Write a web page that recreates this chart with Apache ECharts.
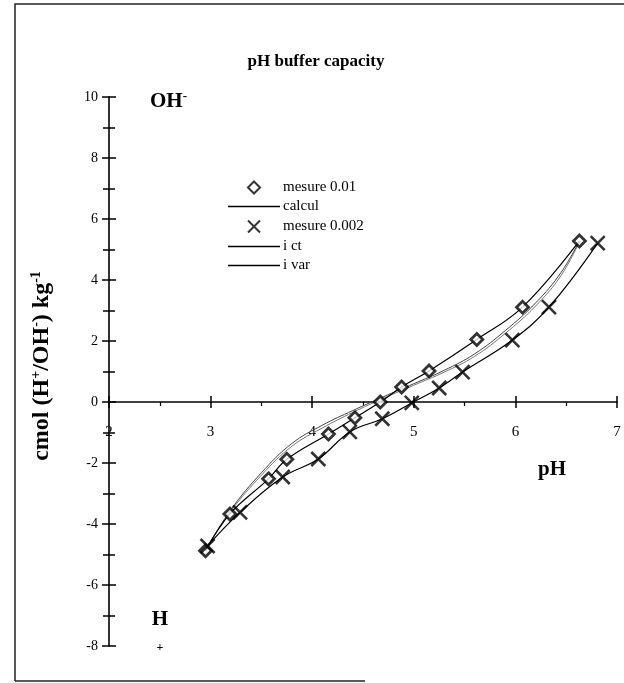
<!DOCTYPE html>
<html><head><meta charset="utf-8">
<script src="https://cdn.jsdelivr.net/npm/echarts@6/dist/echarts.min.js"></script>
<style>html,body{margin:0;padding:0;background:#fff}#c{width:624px;height:683px}</style>
</head><body><div id="c"></div>
<script>
// Measured points (pH, cmol/kg)
const mesure001 = [[2.95,-4.88],[3.19,-3.67],[3.57,-2.52],[3.75,-1.88],[4.16,-1.05],[4.42,-0.52],[4.67,0.00],[4.88,0.49],[5.15,1.02],[5.62,2.05],[6.07,3.11],[6.63,5.28]];
const mesure0002 = [[2.97,-4.72],[3.29,-3.62],[3.71,-2.46],[4.06,-1.87],[4.37,-0.98],[4.69,-0.55],[4.98,-0.03],[5.25,0.46],[5.48,0.98],[5.97,2.03],[6.33,3.11],[6.81,5.21]];
// Model curves
const calcul = [[2.95,-4.88],[3.19,-3.67],[3.57,-2.52],[3.75,-1.88],[4.16,-1.05],[4.42,-0.52],[4.67,0.00],[4.88,0.49],[5.15,1.02],[5.62,2.05],[6.07,3.11],[6.63,5.28]];
const ict = [[2.95,-4.85],[3.2,-3.58],[3.5,-2.4],[3.8,-1.45],[4.1,-0.85],[4.4,-0.34],[4.7,0.12],[5.0,0.55],[5.3,0.98],[5.6,1.5],[5.9,2.25],[6.2,3.15],[6.45,4.15],[6.63,5.25]];
const ivar = [[2.95,-4.85],[3.2,-3.53],[3.5,-2.32],[3.8,-1.36],[4.1,-0.76],[4.4,-0.28],[4.7,0.17],[5.0,0.6],[5.3,1.04],[5.6,1.58],[5.9,2.34],[6.2,3.25],[6.45,4.25],[6.63,5.28]];
const xTicks = [2,3,4,5,6,7];
const yTicks = [-8,-6,-4,-2,0,2,4,6,8,10];

const FONT = 'Liberation Serif';
const diamond = 'path://M0,-1L1,0L0,1L-1,0Z';
const cross = 'path://M0,0L10,10M10,0L0,10';
const lineIcon = 'path://M0,0H52V1.3H0Z';

const GRID_TOP = 97, GRID_BOTTOM = 37, H = 683;
const plotH = H - GRID_TOP - GRID_BOTTOM;
const yMin = yTicks[0], yMax = yTicks[yTicks.length-1];
// distance from bottom edge of grid to the y=0 line (axis crosses at zero)
const zeroOffset = -plotH * (0 - yMin) / (yMax - yMin);

const chart = echarts.init(document.getElementById('c'), null, {renderer:'canvas'});
const yBase = {
  type:'value', min:yMin, max:yMax, interval:2, position:'left',
  splitLine:{show:false},
  axisLine:{show:true, onZero:false, lineStyle:{color:'#000', width:1.6}},
  minorTick:{show:true, splitNumber:2, length:6, lineStyle:{color:'#000', width:1.5}},
  minorSplitLine:{show:false}
};
const xBase = {
  type:'value', min:xTicks[0], max:xTicks[xTicks.length-1], interval:1, position:'bottom',
  offset:zeroOffset,
  splitLine:{show:false},
  axisLine:{show:true, onZero:false, lineStyle:{color:'#000', width:1.6}},
  minorSplitLine:{show:false}
};
chart.setOption({
  animation:false,
  backgroundColor:'#fff',
  textStyle:{fontFamily:FONT},
  grid:{left:109, right:7, top:GRID_TOP, bottom:GRID_BOTTOM},
  title:{text:'pH buffer capacity', left:311, top:48, textAlign:'center',
    textStyle:{fontFamily:FONT, fontSize:17, fontWeight:'bold', color:'#000'}},
  legend:{
    orient:'vertical', left:223, top:175, itemWidth:52, itemHeight:12, itemGap:4,
    textStyle:{fontFamily:FONT, fontSize:15, lineHeight:14, height:14, color:'#000', padding:[0,0,0,-2]},
    data:[
      {name:'mesure 0.01'},
      {name:'calcul', icon:lineIcon, itemStyle:{color:'#000'}},
      {name:'mesure 0.002'},
      {name:'i ct', icon:lineIcon, itemStyle:{color:'#000'}},
      {name:'i var', icon:lineIcon, itemStyle:{color:'#000'}}
    ]
  },
  xAxis:[
    Object.assign({}, xBase, {
      axisTick:{show:true, inside:false, length:6, lineStyle:{color:'#000', width:1.5}},
      minorTick:{show:true, splitNumber:2, length:4, lineStyle:{color:'#000', width:1.2}},
      axisLabel:{show:true, margin:23, fontFamily:FONT, fontSize:15, color:'#000', showMinLabel:true}
    }),
    Object.assign({}, xBase, {
      axisLine:{show:false, onZero:false},
      axisTick:{show:true, inside:true, length:6, lineStyle:{color:'#000', width:1.5}},
      minorTick:{show:false},
      axisLabel:{show:false}
    })
  ],
  yAxis:[
    Object.assign({}, yBase, {
      axisTick:{show:true, inside:false, length:7, lineStyle:{color:'#000', width:1.5}},
      axisLabel:{show:true, margin:11, fontFamily:FONT, fontSize:14, color:'#000'}
    }),
    Object.assign({}, yBase, {
      axisLine:{show:false},
      axisTick:{show:true, inside:true, length:7, lineStyle:{color:'#000', width:1.5}},
      minorTick:{show:true, splitNumber:2, length:6, lineStyle:{color:'#000', width:1.5}},
      axisLabel:{show:false}
    })
  ],
  series:[
    {name:'i ct', type:'line', data:ict, smooth:0.4, symbol:'none', color:'#000',
      lineStyle:{color:'#777', width:1}, z:2},
    {name:'i var', type:'line', data:ivar, smooth:0.4, symbol:'none', color:'#000',
      lineStyle:{color:'#444', width:1}, z:2},
    {name:'calcul', type:'line', data:calcul, smooth:0.4, symbol:'none', color:'#000',
      lineStyle:{color:'#000', width:1.2}, z:3},
    {name:'x-line', type:'line', data:mesure0002, smooth:0.4, symbol:'none', color:'#000',
      lineStyle:{color:'#000', width:1.2}, z:3},
    {name:'mesure 0.01', type:'scatter', data:mesure001, symbol:diamond, symbolSize:12,
      itemStyle:{color:'#fff', borderColor:'#000', borderWidth:2.8}, z:5},
    {name:'mesure 0.002', type:'scatter', data:mesure0002, symbol:cross, symbolSize:14,
      itemStyle:{color:'none', borderColor:'#000', borderWidth:2.6}, z:5}
  ],
  graphic:[
    {type:'polyline', shape:{points:[[15,681],[15,4],[624,4]]}, style:{stroke:'#222', lineWidth:1.5, fill:null}},
    {type:'line', shape:{x1:15, y1:681, x2:365, y2:681}, style:{stroke:'#222', lineWidth:1.5}},
    {type:'text', x:150, y:90, style:{
      text:'{b|OH}{s|-}', rich:{b:{fontFamily:FONT, fontSize:21, fontWeight:'bold', fill:'#000'}, s:{fontFamily:FONT, fontSize:13, fontWeight:'bold', fill:'#000', padding:[0,0,11,0]}}}},
    {type:'text', x:160, y:620, style:{text:'H', fontFamily:FONT, fontSize:21, fontWeight:'bold', fill:'#000', align:'center', verticalAlign:'middle'}},
    {type:'text', x:160, y:648, style:{text:'+', fontFamily:FONT, fontSize:12, fontWeight:'bold', fill:'#000', align:'center', verticalAlign:'middle'}},
    {type:'text', x:552, y:470, style:{text:'pH', fontFamily:FONT, fontSize:21, fontWeight:'bold', fill:'#000', align:'center', verticalAlign:'middle'}},
    {type:'text', x:42, y:366, rotation:Math.PI/2, style:{
      text:'{b|cmol (H}{s|+}{b|/OH}{s|-}{b|) kg}{s|-1}', align:'center', verticalAlign:'middle',
      rich:{b:{fontFamily:FONT, fontSize:24, fontWeight:'bold', fill:'#000'}, s:{fontFamily:FONT, fontSize:14, fontWeight:'bold', fill:'#000', padding:[0,0,12,0]}}}}
  ]
});
</script></body></html>
